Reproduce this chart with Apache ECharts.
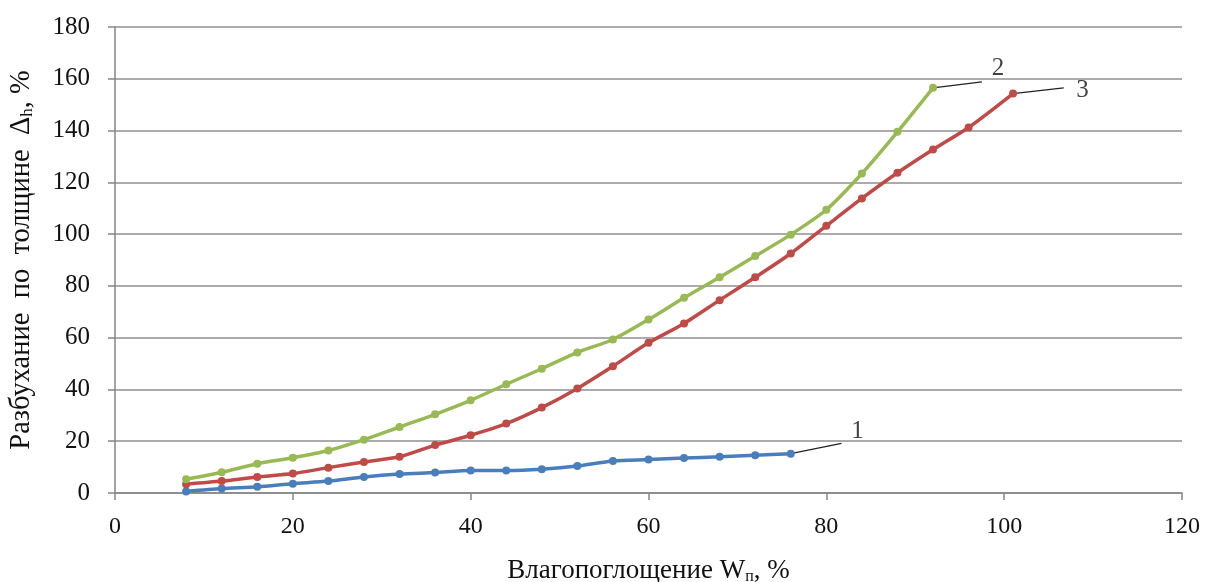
<!DOCTYPE html>
<html><head><meta charset="utf-8">
<script src="https://cdn.jsdelivr.net/npm/echarts@6/dist/echarts.min.js"></script>
<style>html,body{margin:0;padding:0;background:#fff}#c{width:1207px;height:582px}</style>
</head><body><div id="c"></div>
<script>
const xTicks = [0, 20, 40, 60, 80, 100, 120];
const yTicks = [0, 20, 40, 60, 80, 100, 120, 140, 160, 180];

const x1 = [8,12,16,20,24,28,32,36,40,44,48,52,56,60,64,68,72,76];
const y1 = [0.6,1.7,2.4,3.6,4.6,6.2,7.3,7.9,8.7,8.7,9.2,10.4,12.4,12.9,13.5,14.0,14.6,15.2];

const x2 = [8,12,16,20,24,28,32,36,40,44,48,52,56,60,64,68,72,76,80,84,88,92];
const y2 = [5.3,8.0,11.3,13.6,16.4,20.6,25.5,30.4,35.8,42.0,48.0,54.3,59.3,67.0,75.4,83.3,91.5,99.8,109.4,123.4,139.5,156.5];

const x3 = [8,12,16,20,24,28,32,36,40,44,48,52,56,60,64,68,72,76,80,84,88,92,96,101];
const y3 = [3.4,4.6,6.2,7.5,9.8,12.0,14.0,18.5,22.3,26.8,33.0,40.4,49.0,58.0,65.5,74.5,83.3,92.5,103.2,113.8,123.7,132.7,141.2,154.3];

const curveNames = ['1', '2', '3'];
const leaderEnds = [[81.7, 19.2], [97.5, 158.8], [106.7, 156.5]];
const labelPos = [[83.5, 23.6], [99.3, 164.0], [108.8, 155.6]];

const colors = ['#4A7EBB', '#98B954', '#BE4B48'];
const xs = [x1, x2, x3], ys = [y1, y2, y3];
const pairs = (a, b) => a.map((v, i) => [v, b[i]]);

const font = 'Liberation Serif, Times New Roman, serif';
const txt = '#111';
const series = [];
[0, 2, 1].forEach(i => {
  series.push({
    type: 'line', name: curveNames[i], data: pairs(xs[i], ys[i]),
    smooth: 0.25, symbol: 'circle', symbolSize: 8, showSymbol: true,
    lineStyle: { color: colors[i], width: 3.5 },
    itemStyle: { color: colors[i] }, z: 3
  });
});
[0, 1, 2].forEach(i => {
  const last = [xs[i][xs[i].length - 1], ys[i][ys[i].length - 1]];
  series.push({
    type: 'line', data: [last, leaderEnds[i]], symbol: 'none',
    lineStyle: { color: '#222', width: 1.3 }, silent: true, z: 2
  });
  series.push({
    type: 'scatter', data: [labelPos[i]], symbolSize: 0, silent: true,
    label: { show: true, position: 'inside', formatter: curveNames[i],
      fontFamily: font, fontSize: 25, color: txt }
  });
});

const chart = echarts.init(document.getElementById('c'));
chart.setOption({
  animation: false,
  backgroundColor: '#fff',
  grid: { left: 115, right: 25, top: 27, bottom: 89, containLabel: false, outerBoundsMode: 'none' },
  xAxis: {
    type: 'value', min: 0, max: 120, interval: 20,
    axisLine: { show: true, onZero: false, lineStyle: { color: '#868686', width: 1.5 } },
    axisTick: { show: true, length: 7, lineStyle: { color: '#868686', width: 1.5 } },
    splitLine: { show: false },
    axisLabel: { fontFamily: font, fontSize: 24, color: txt, margin: 22 },
    name: '{a|Влагопоглощение W}{s|п}{a|, %}',
    nameLocation: 'middle', nameGap: 64,
    nameTextStyle: { rich: {
      a: { fontFamily: font, fontSize: 27, color: txt },
      s: { fontFamily: font, fontSize: 16, color: txt, verticalAlign: 'bottom', padding: [12, 0, 0, 0] }
    } }
  },
  yAxis: {
    type: 'value', min: 0, max: 180, interval: 20,
    axisLine: { show: true, lineStyle: { color: '#868686', width: 1.5 } },
    axisTick: { show: true, length: 7, lineStyle: { color: '#868686', width: 1.5 } },
    splitLine: { show: true, lineStyle: { color: '#8f8f8f', width: 1.5 } },
    axisLabel: { fontFamily: font, fontSize: 25, color: txt, margin: 25 },
    name: '{a|Разбухание  по  толщине  Δ}{s|h}{a|, %}',
    nameLocation: 'middle', nameGap: 79, nameRotate: 90,
    nameTextStyle: { rich: {
      a: { fontFamily: font, fontSize: 28.5, color: txt },
      s: { fontFamily: font, fontSize: 17, color: txt, verticalAlign: 'bottom', padding: [12, 0, 0, 0] }
    } }
  },
  series: series
});
</script>
</body></html>
